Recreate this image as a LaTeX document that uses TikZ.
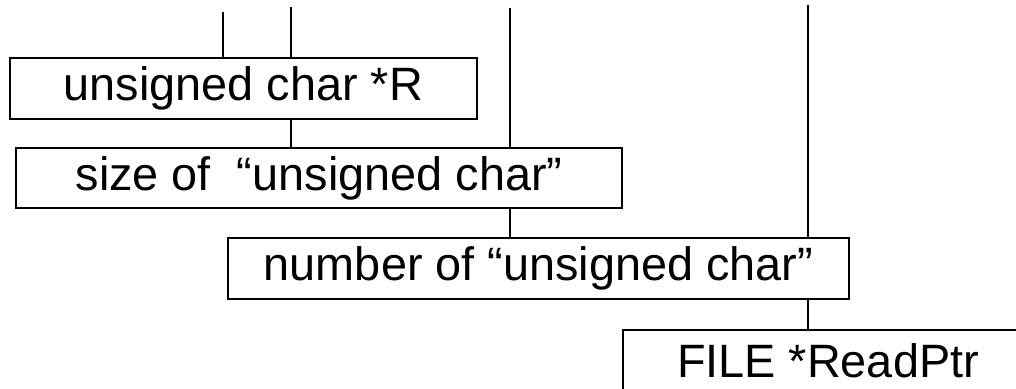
\documentclass[tikz,border=0pt]{standalone}
\usepackage{fontspec}
\setmainfont{Liberation Sans}
\begin{document}
\begin{tikzpicture}[x=1bp,y=-1bp,
  box/.style={draw,line width=1.6bp,rectangle,inner sep=0pt,font=\fontsize{47}{50}\selectfont},
  conn/.style={line width=1.6bp}]
\clip (0,0) rectangle (1016,388);
\node[box,minimum width=467bp,minimum height=61bp] (b1) at (243.5,88.5) {unsigned char *R};
\node[box,minimum width=606bp,minimum height=60bp] (b2) at (319,178) {size of \ “unsigned char”};
\node[box,minimum width=621bp,minimum height=61bp] (b3) at (538.5,268.5) {number of “unsigned char”};
\node[box,minimum width=410bp,minimum height=61bp] (b4) at (828,360.5) {FILE *ReadPtr};
\coordinate (t1) at (223,12);
\coordinate (t2) at (291,7);
\coordinate (t3) at (510,8);
\coordinate (t4) at (808,5);
\draw[conn] (t1) -- (t1 |- b1.north);
\draw[conn] (t2) -- (t2 |- b1.north);
\draw[conn] (t2 |- b1.south) -- (t2 |- b2.north);
\draw[conn] (t3) -- (t3 |- b2.north);
\draw[conn] (t3 |- b2.south) -- (t3 |- b3.north);
\draw[conn] (t4) -- (t4 |- b3.north);
\draw[conn] (t4 |- b3.south) -- (t4 |- b4.north);
\end{tikzpicture}
\end{document}
